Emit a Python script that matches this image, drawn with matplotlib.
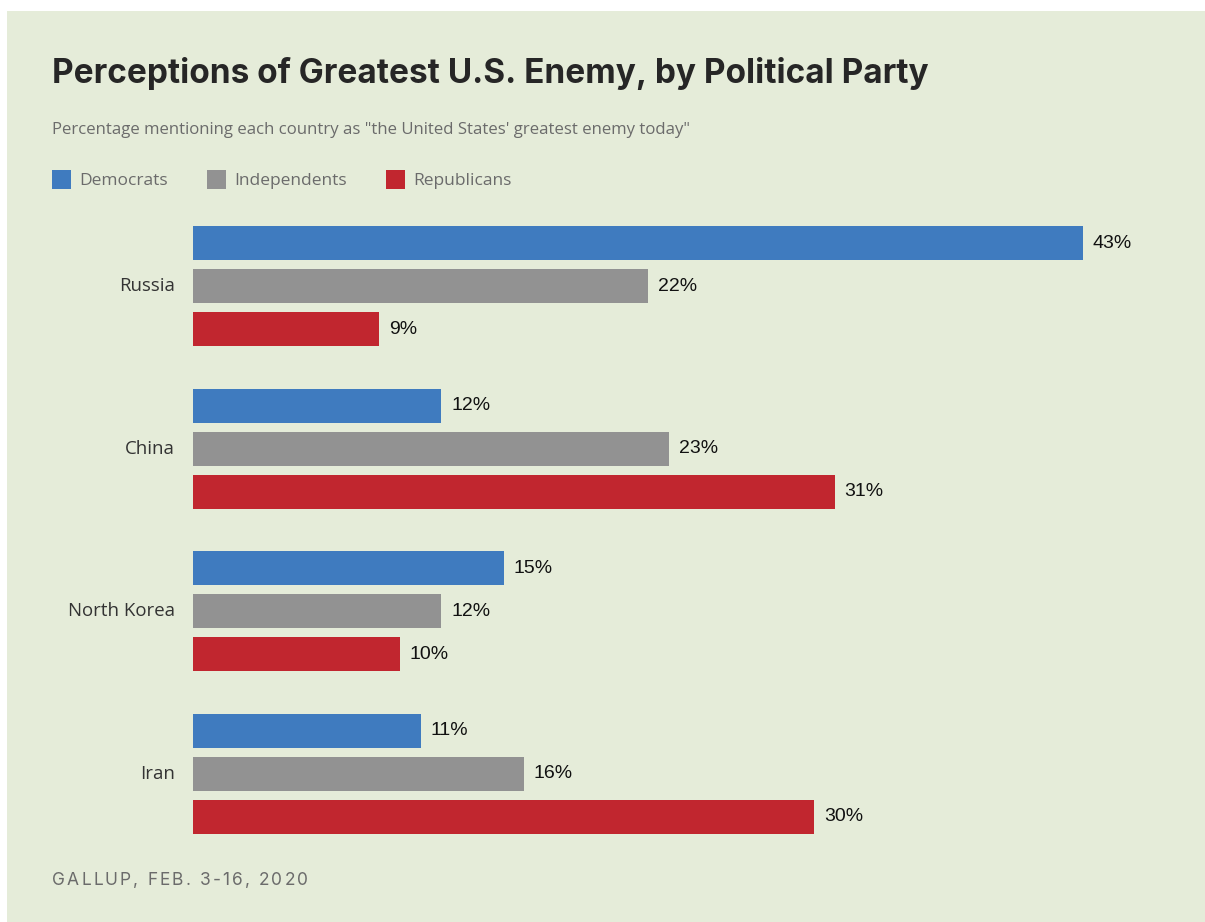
import matplotlib.pyplot as plt
from matplotlib.patches import Rectangle
from matplotlib.font_manager import FontProperties

countries = ["Russia", "China", "North Korea", "Iran"]
parties = ["Democrats", "Independents", "Republicans"]
democrats = [43, 12, 15, 11]
independents = [22, 23, 12, 16]
republicans = [9, 31, 10, 30]
source = "GALLUP, FEB. 3-16, 2020"

colors = ["#3f7bbf", "#929292", "#c1262f"]
bg = "#e5ecd9"

W, H = 1205, 922
fig = plt.figure(figsize=(W / 100, H / 100), dpi=100)
fig.patch.set_facecolor("white")
fig.patches.append(Rectangle((7 / W, 0), 1, 1 - 11 / H, transform=fig.transFigure,
                             facecolor=bg, edgecolor="none", zorder=-10))

# bars: one slot = 43px, group pitch ~3.78 slots
ax = fig.add_axes([193 / W, 1 - 840 / H, 1 - 193 / W, (840 - 210) / H])
ax.set_facecolor("none")
ax.set_xlim(0, (W - 193) / 20.7)
ax.set_ylim(13.88, -0.77)
ax.axis("off")

pitch = 3.78
series = [democrats, independents, republicans]
for j, vals in enumerate(series):
    ys = [i * pitch + j for i in range(len(countries))]
    ax.barh(ys, vals, height=0.79, color=colors[j], edgecolor="none")
    for y, v in zip(ys, vals):
        ax.annotate(f"{v}%", (v, y), xytext=(7, 0), textcoords="offset points",
                    va="center", ha="left", fontsize=14, color="#111111",
                    family="Liberation Sans")

for i, c in enumerate(countries):
    ax.annotate(c, (0, i * pitch + 1), xytext=(-13, 0), textcoords="offset points",
                va="center", ha="right", fontsize=13.4, color="#333333",
                family="Open Sans")

fig.text(52 / W, 1 - 73 / H, "Perceptions of Greatest U.S. Enemy, by Political Party",
         fontsize=24, fontweight="bold", color="#262626", family="Inter",
         va="center", ha="left")
fig.text(52 / W, 1 - 130 / H,
         'Percentage mentioning each country as "the United States\' greatest enemy today"',
         fontsize=12.1, color="#6b6b6b", family="Open Sans", va="center", ha="left")

leg_x = [52, 207, 386]
for x, p, col in zip(leg_x, parties, colors):
    fig.patches.append(Rectangle((x / W, 1 - 189 / H), 19 / W, 19 / H,
                                 transform=fig.transFigure, facecolor=col,
                                 edgecolor="none"))
    fig.text((x + 27) / W, 1 - 181 / H, p, fontsize=12.5, color="#6b6b6b",
             family="Open Sans", va="center", ha="left")

# letter-spaced source line, spread over 256px
fp = FontProperties(family="Inter", size=12.5)
renderer = fig.canvas.get_renderer()
def text_w(s):
    return renderer.get_text_width_height_descent(s, fp, ismath=False)[0] if s else 0
track = (256 - text_w(source)) / (len(source) - 1)
for k, ch in enumerate(source):
    x = 52 + text_w(source[:k]) + k * track
    fig.text(x / W, 1 - 880 / H, ch, fontproperties=fp, color="#6b6b6b",
             va="center", ha="left")

fig.savefig("out.png", dpi=100, facecolor=fig.get_facecolor())
